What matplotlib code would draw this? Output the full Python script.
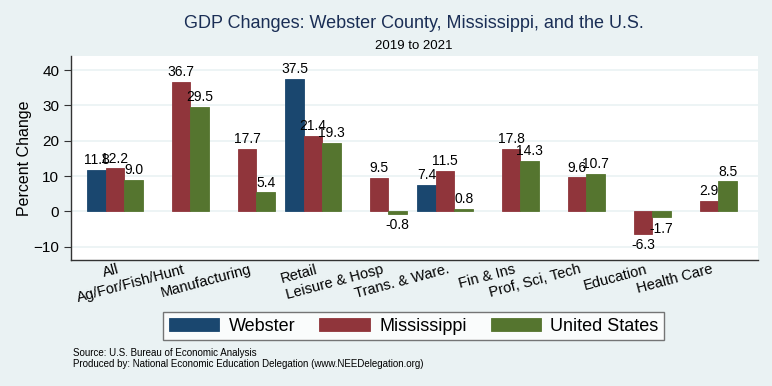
import numpy as np
import matplotlib.pyplot as plt
import matplotlib.transforms as mtransforms

plt.rcParams['font.family'] = ['Liberation Sans', 'DejaVu Sans']

# data (nan = no bar shown)
categories = ["All", "Ag/For/Fish/Hunt", "Manufacturing", "Retail", "Leisure & Hosp",
              "Trans. & Ware.", "Fin & Ins", "Prof, Sci, Tech", "Education", "Health Care"]
webster = [11.8, np.nan, np.nan, 37.5, np.nan, 7.4, np.nan, np.nan, np.nan, np.nan]
mississippi = [12.2, 36.7, 17.7, 21.4, 9.5, 11.5, 17.8, 9.6, -6.3, 2.9]
united_states = [9.0, 29.5, 5.4, 19.3, -0.8, 0.8, 14.3, 10.7, -1.7, 8.5]

series = [("Webster", webster, "#1a476f"),
          ("Mississippi", mississippi, "#90353b"),
          ("United States", united_states, "#55752f")]

bg = "#eaf2f3"
fig = plt.figure(figsize=(7.72, 3.86), dpi=100, facecolor=bg)
ax = fig.add_axes([0.092, 0.326, 0.890, 0.529])
ax.set_facecolor("white")

x = np.arange(len(categories))
w = 0.28
for k, (name, vals, col) in enumerate(series):
    pos = x + (k - 1) * w
    vals = np.array(vals, dtype=float)
    ax.bar(pos, vals, width=w, color=col, edgecolor=col, linewidth=0.6, label=name, zorder=3)
    for px, v in zip(pos, vals):
        if np.isnan(v):
            continue
        if v >= 0:
            ax.annotate(f"{v:.1f}", (px, v), xytext=(0, 2), textcoords="offset points",
                        ha="center", va="bottom", fontsize=10, zorder=4)
        else:
            ax.annotate(f"{v:.1f}", (px, v), xytext=(0, -3), textcoords="offset points",
                        ha="center", va="top", fontsize=10, zorder=4)

ax.set_xlim(-0.667, 9.74)
ax.set_ylim(-13.8, 44)
ax.set_yticks([-10, 0, 10, 20, 30, 40])
ax.tick_params(axis="y", labelsize=11, length=5, color="#333333")
ax.yaxis.grid(True, color=bg, linewidth=1.2, zorder=0)
ax.set_axisbelow(True)
ax.set_xticks([])
for s in ["top", "right"]:
    ax.spines[s].set_visible(False)
for s in ["left", "bottom"]:
    ax.spines[s].set_color("#333333")
    ax.spines[s].set_linewidth(1.0)
ax.set_ylabel("Percent Change", fontsize=11.5, labelpad=1)

# rotated category labels anchored at each category
trans = mtransforms.blended_transform_factory(ax.transData, ax.transAxes)
for xi, lab in zip(x, categories):
    ax.text(xi + 0.03, -0.01, lab, transform=trans, rotation=15, rotation_mode="anchor",
            ha="right", va="top", fontsize=10.5)

fig.text(0.536, 0.94, "GDP Changes: Webster County, Mississippi, and the U.S.",
         ha="center", va="center", fontsize=13, color="#1a2e55")
fig.text(0.536, 0.88, "2019 to 2021", ha="center", va="center", fontsize=9.5)

leg = fig.legend(loc="center", bbox_to_anchor=(0.536, 0.155), ncol=3, fontsize=13,
                 frameon=True, fancybox=False, edgecolor="#555555", handlelength=2.8,
                 handleheight=0.78, columnspacing=1.35, handletextpad=0.5, borderpad=0.3,
                 borderaxespad=0)
leg.get_frame().set_linewidth(1.0)

fig.text(0.095, 0.085, "Source: U.S. Bureau of Economic Analysis", fontsize=7, va="center")
fig.text(0.095, 0.058, "Produced by: National Economic Education Delegation (www.NEEDelegation.org)",
         fontsize=7, va="center")

fig.savefig("out.png", dpi=100, facecolor=bg)
